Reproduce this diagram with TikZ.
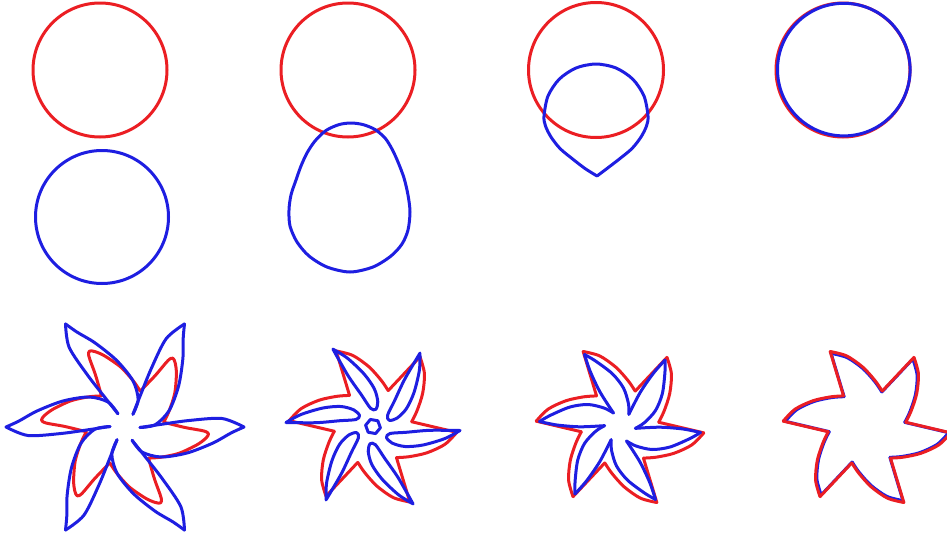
\documentclass[tikz,border=0pt]{standalone}
\definecolor{cred}{RGB}{235,30,35}
\definecolor{cblue}{RGB}{30,30,225}
\tikzset{
  curve/.style={line width=3pt, line cap=round, line join=round},
  pics/starshape/.style={code={
    \foreach \p in {0,60,...,300}{
      \draw[curve, rotate=\p] (38.7,-4.75) -- (83.8,5.86);
      \draw[curve, rotate=\p] plot[smooth] coordinates {(83.8,5.86) (71.8,17.9) (53.9,26.3) (36.0,30.2) (23.5,31.1)};
    }}},
  pics/roundstar/.style={code={
    \foreach \p in {0,60,...,300}{
      \draw[curve, rotate=\p] plot[smooth] coordinates {(38.7,-4.75) (60,0.5) (79,4) (83.5,7) (80.5,11.5) (71.8,17.9) (53.9,26.3) (36.0,30.2) (23.5,31.1)};
    }}},
  pics/spinone/.style={code={
    \foreach \p in {0,60,...,300}{
      \draw[curve, rotate=\p] plot[smooth] coordinates {(119,0) (106,6) (88,16) (62,26) (36,30) (17,25) (7.07,13.24)};
      \draw[curve, rotate=\p] plot[smooth] coordinates {(15,0.5) (35,-2.5) (64,-6.5) (97,-8.5) (119,0)};
    }}},
  pics/lenses/.style={code={
    \foreach \p in {0,60,...,300}{
      \draw[curve, rotate=\p] plot[smooth] coordinates {(87,4) (72,12) (50,18.5) (32,20) (19,16.5) (13.5,11) (17,7) (33,5.8) (57,3.8) (87,4)};
    }
    \draw[curve] (10:7.5) -- (70:7.5) -- (130:7.5) -- (190:7.5) -- (250:7.5) -- (310:7.5) -- cycle;
    }},
  pics/spinthree/.style={code={
    \foreach \p in {0,60,...,300}{
      \draw[curve, rotate=\p] plot[smooth] coordinates {(80.5,5.5) (70,11.5) (50,20) (32,22.5) (16,19) (6.53,14.0)};
      \draw[curve, rotate=\p] plot[smooth] coordinates {(15.4,1.35) (40,0.2) (63,2) (80.5,5.5)};
    }}}
}
\begin{document}
\begin{tikzpicture}[x=1pt,y=-1pt]
\useasboundingbox (0,0) rectangle (947,538);
% top row
\draw[curve, cred] (100,70) circle[radius=67];
\draw[curve, cblue] (102,217) circle[radius=66.5];
\draw[curve, cred] (348,70) circle[radius=67];
\draw[curve, cblue] plot[smooth cycle] coordinates {(351,123) (363,124.6) (375,129.5) (385,138) (392,149) (398,162) (404,178) (408,195) (410,212) (408,230) (402,244) (391,256) (373,267) (350,272) (327,267) (309,256) (297,242) (290,226) (289,210) (291,195) (296,180) (301,166) (307,153) (315,141) (326,130.5) (339,124.6)};
\draw[curve, cred] (596,70) circle[radius=67.5];
\draw[curve, cblue] plot[smooth] coordinates {(597,176) (607,168.5) (620,158.5) (632,148.5) (641,137) (646.5,126) (648,116) (644,96) (632.8,79.2) (616,68) (596,64) (576,68) (559.2,79.2) (548,96) (544,116) (545.5,126) (551,137) (560,148.5) (572,158.5) (585,168.5) (597,176)};
\draw[curve, cred] (843,70) circle[radius=67];
\draw[curve, cblue] (843.8,69.6) circle[radius=66.3];
% bottom row
\pic[color=cred] at (125,427) {roundstar};
\pic[color=cblue] at (125,427) {spinone};
\pic[color=cred] at (373,426.5) {starshape};
\pic[color=cblue] at (373,426.5) {lenses};
\pic[color=cred] at (620,427) {starshape};
\pic[color=cblue] at (620,427) {spinthree};
\pic[color=cblue, scale=0.975] at (867,427) {starshape};
\pic[color=cred] at (867,427) {starshape};
\end{tikzpicture}
\end{document}
